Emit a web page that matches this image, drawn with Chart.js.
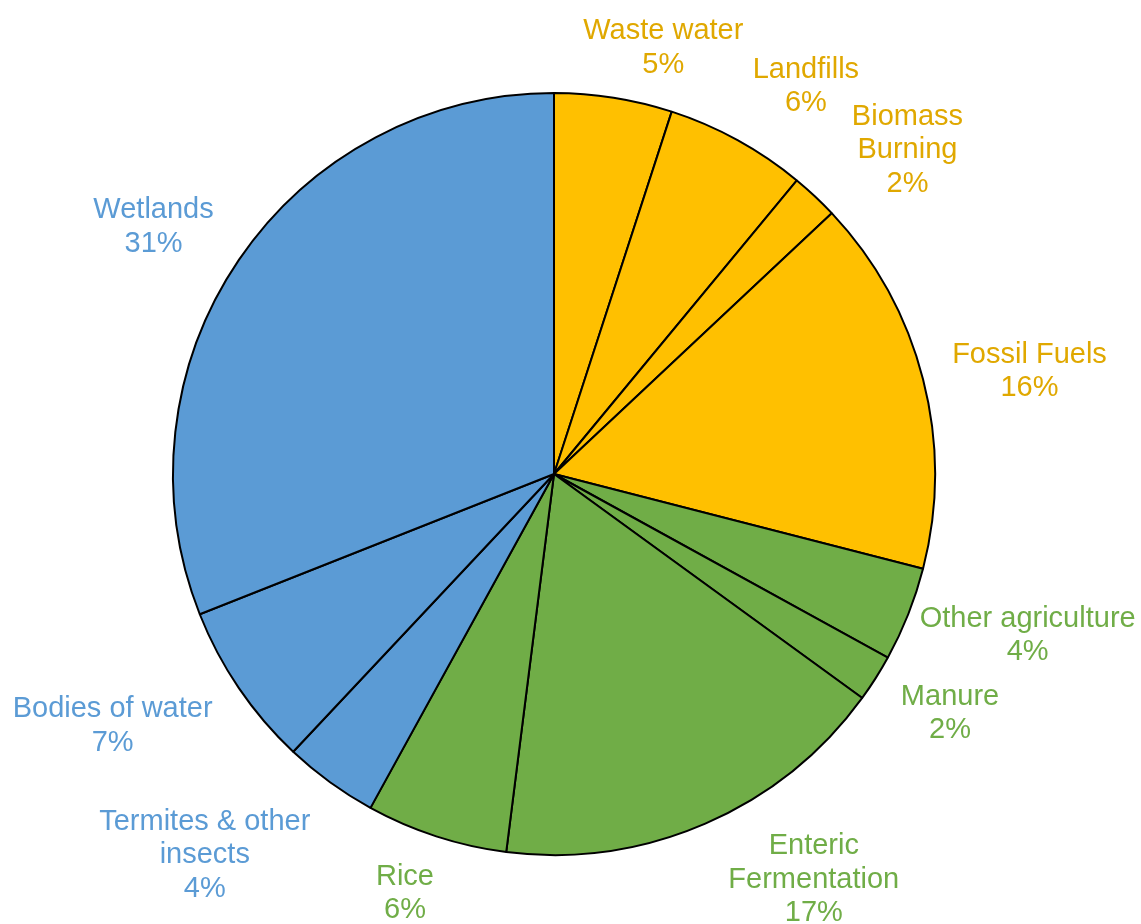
<!DOCTYPE html>
<html>
<head>
<meta charset="utf-8">
<script src="https://cdn.jsdelivr.net/npm/chart.js@4.4.1/dist/chart.umd.min.js"></script>
<style>
  html, body { margin: 0; padding: 0; background: #fff; }
  #wrap { width: 1141px; height: 924px; }
</style>
</head>
<body>
<div id="wrap"><canvas id="pie"></canvas></div>
<script>
const categories = ['Waste water', 'Landfills', ['Biomass', 'Burning'], 'Fossil Fuels',
  'Other agriculture', 'Manure', ['Enteric', 'Fermentation'], 'Rice',
  ['Termites & other', 'insects'], 'Bodies of water', 'Wetlands'];
const values = [5, 6, 2, 16, 4, 2, 17, 6, 4, 7, 31];
const groups = ['waste', 'waste', 'waste', 'waste', 'agri', 'agri', 'agri', 'agri', 'nat', 'nat', 'nat'];

const fillColor = { waste: '#FFC000', agri: '#70AD47', nat: '#5B9BD5' };
const textColor = { waste: '#E0A800', agri: '#70AD47', nat: '#5B9BD5' };

// draws the outside labels, Excel style
const outsideLabels = {
  id: 'outsideLabels',
  afterDatasetsDraw(chart, args, opts) {
    const ctx = chart.ctx;
    const meta = chart.getDatasetMeta(0);
    ctx.save();
    ctx.font = '29px "Liberation Sans", Arial, sans-serif';
    ctx.textAlign = 'center';
    ctx.textBaseline = 'middle';
    const lh = 33.5;
    meta.data.forEach((arc, i) => {
      const p = arc.getProps(['x', 'y', 'startAngle', 'endAngle', 'outerRadius'], true);
      const mid = (p.startAngle + p.endAngle) / 2;
      const cat = categories[i];
      const lines = (Array.isArray(cat) ? cat.slice() : [cat]);
      lines.push(values[i] + '%');
      const w = Math.max(...lines.map(t => ctx.measureText(t).width));
      const h = lines.length * lh;
      const dx = Math.cos(mid), dy = Math.sin(mid);
      const d = p.outerRadius + opts.gap;
      const nudge = opts.nudge[i] || [0, 0];
      const cx = p.x + d * dx + dx * w / 2 + nudge[0];
      const cy = p.y + d * dy + dy * h / 2 + nudge[1] + 2;
      ctx.fillStyle = textColor[groups[i]];
      lines.forEach((t, k) => {
        ctx.fillText(t, cx, cy - h / 2 + lh / 2 + k * lh);
      });
    });
    ctx.restore();
  }
};

new Chart(document.getElementById('pie'), {
  type: 'pie',
  data: {
    labels: categories,
    datasets: [{
      data: values,
      backgroundColor: groups.map(g => fillColor[g]),
      borderColor: '#000',
      borderWidth: 2
    }]
  },
  options: {
    responsive: true,
    maintainAspectRatio: false,
    animation: false,
    radius: 381,
    layout: { padding: { left: 173, right: 206, top: 93, bottom: 69 } },
    plugins: {
      legend: { display: false },
      tooltip: { enabled: false },
      outsideLabels: {
        gap: 14,
        nudge: [[35, -5], [36, -14], [45, -1], [18, 2], [6, 2], [21, 8],
                [69, -5], [-18, 10], [-55, 19], [-32, 9], [-24, -8]]
      }
    }
  },
  plugins: [outsideLabels]
});
</script>
</body>
</html>
